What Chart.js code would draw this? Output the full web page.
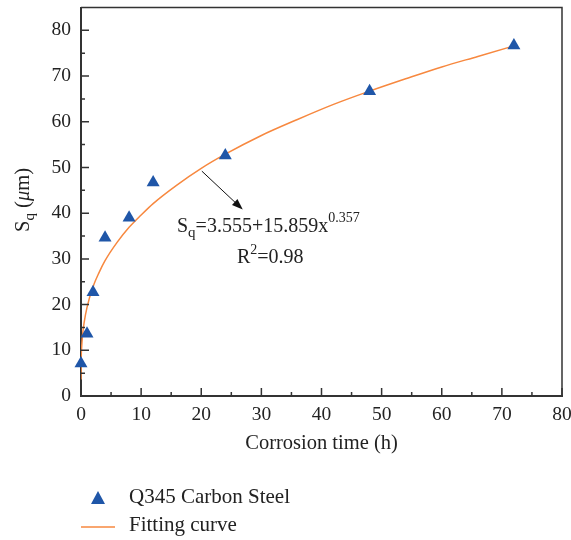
<!DOCTYPE html>
<html>
<head>
<meta charset="utf-8">
<script src="https://cdn.jsdelivr.net/npm/chart.js@4/dist/chart.umd.min.js"></script>
<style>
  html, body { margin: 0; padding: 0; background: #fff; }
  #wrap { width: 571px; height: 540px; position: relative; }
</style>
</head>
<body>
<div id="wrap"><canvas id="sqChart"></canvas></div>
<script>
// measured roughness Sq vs corrosion time
const timeHours = [0, 1, 2, 4, 8, 12, 24, 48, 72];
const sqValues  = [7.1, 13.6, 22.7, 34.6, 39.0, 46.7, 52.6, 66.7, 76.7];

// fitting curve
const fitX = [0, 0.05, 0.1, 0.25, 0.5, 1, 2, 3, 4, 6, 8, 10, 12, 16, 20, 24, 30, 36, 42, 48, 54, 60, 66, 72];
const fitY = [3.6, 9.0, 10.5, 13.2, 15.9, 19.4, 23.9, 27.0, 29.6, 33.6, 36.9, 39.6, 42.1, 46.2, 49.8, 52.9, 57.0, 60.5, 63.8, 66.7, 69.4, 72.0, 74.3, 76.6];

const xTicks = [0, 10, 20, 30, 40, 50, 60, 70, 80];
const yTicks = [0, 10, 20, 30, 40, 50, 60, 70, 80];

const seriesNames = ['Q345 Carbon Steel', 'Fitting curve'];

const BLUE = '#1f56a8';
const ORANGE = '#f7883f';
const INK = '#222';
const FONT = '"Liberation Serif", "DejaVu Serif", serif';

// draws text runs with sub/superscripts, returns width
function runs(ctx, parts, x, y, measureOnly) {
  let w = 0;
  parts.forEach(p => {
    ctx.font = (p.italic ? 'italic ' : '') + p.size + 'px ' + FONT;
    if (!measureOnly) ctx.fillText(p.t, x + w, y + (p.dy || 0));
    w += ctx.measureText(p.t).width;
  });
  return w;
}

// keep the plot area where the reference has it (no label overflow padding)
function noPad(s) {
  s.paddingTop = 0; s.paddingBottom = 0; s.paddingLeft = 0; s.paddingRight = 0;
}

const decorations = {
  id: 'decorations',
  afterDraw(chart) {
    const { ctx, chartArea: a, scales: { x, y } } = chart;
    ctx.save();

    // frame top/right
    ctx.strokeStyle = '#333';
    ctx.lineWidth = 1.5;
    ctx.beginPath();
    ctx.moveTo(a.left, a.top);
    ctx.lineTo(a.right, a.top);
    ctx.lineTo(a.right, a.bottom);
    ctx.stroke();
    // inner ticks on left/bottom
    ctx.beginPath();
    for (let v = 0; v <= 80; v += 5) {
      const len = v % 10 === 0 ? 8 : 4;
      const px = x.getPixelForValue(v);
      ctx.moveTo(px, a.bottom);
      ctx.lineTo(px, a.bottom - len);
      const py = y.getPixelForValue(v);
      ctx.moveTo(a.left, py);
      ctx.lineTo(a.left + len, py);
    }
    ctx.stroke();

    // arrow
    const x0 = x.getPixelForValue(20.1), y0 = y.getPixelForValue(49.2);
    const x1 = x.getPixelForValue(26.9), y1 = y.getPixelForValue(40.8);
    const ang = Math.atan2(y1 - y0, x1 - x0);
    ctx.strokeStyle = '#111';
    ctx.fillStyle = '#111';
    ctx.lineWidth = 1;
    ctx.beginPath();
    ctx.moveTo(x0, y0);
    ctx.lineTo(x1 - 6 * Math.cos(ang), y1 - 6 * Math.sin(ang));
    ctx.stroke();
    ctx.beginPath();
    ctx.moveTo(x1, y1);
    ctx.lineTo(x1 - 11 * Math.cos(ang) + 4 * Math.sin(ang), y1 - 11 * Math.sin(ang) - 4 * Math.cos(ang));
    ctx.lineTo(x1 - 11 * Math.cos(ang) - 4 * Math.sin(ang), y1 - 11 * Math.sin(ang) + 4 * Math.cos(ang));
    ctx.closePath();
    ctx.fill();

    // equation text
    ctx.fillStyle = INK;
    ctx.textBaseline = 'alphabetic';
    ctx.textAlign = 'left';
    runs(ctx, [
      { t: 'S', size: 20 },
      { t: 'q', size: 15, dy: 5 },
      { t: '=3.555+15.859x', size: 20 },
      { t: '0.357', size: 14, dy: -10 }
    ], 177, 232);
    runs(ctx, [
      { t: 'R', size: 20 },
      { t: '2', size: 14, dy: -9 },
      { t: '=0.98', size: 20 }
    ], 237, 263);

    // axis titles
    ctx.font = '20.5px ' + FONT;
    ctx.textAlign = 'center';
    ctx.textBaseline = 'middle';
    ctx.fillText('Corrosion time (h)', (a.left + a.right) / 2, 444);

    const yParts = [
      { t: 'S', size: 20.5 },
      { t: 'q', size: 15, dy: 5 },
      { t: ' (', size: 20.5 },
      { t: 'μ', size: 20.5, italic: true },
      { t: 'm)', size: 20.5 }
    ];
    ctx.textAlign = 'left';
    ctx.textBaseline = 'alphabetic';
    ctx.translate(29, 200);
    ctx.rotate(-Math.PI / 2);
    const w = runs(ctx, yParts, 0, 0, true);
    runs(ctx, yParts, -w / 2, 0);
    ctx.setTransform(1, 0, 0, 1, 0, 0);

    // legend
    ctx.fillStyle = BLUE;
    ctx.beginPath();
    ctx.moveTo(98, 491);
    ctx.lineTo(105, 504);
    ctx.lineTo(91, 504);
    ctx.closePath();
    ctx.fill();
    ctx.strokeStyle = ORANGE;
    ctx.lineWidth = 1.5;
    ctx.beginPath();
    ctx.moveTo(81, 527);
    ctx.lineTo(115, 527);
    ctx.stroke();
    ctx.fillStyle = INK;
    ctx.font = '21px ' + FONT;
    ctx.textBaseline = 'middle';
    ctx.fillText(seriesNames[0], 129, 497);
    ctx.fillText(seriesNames[1], 129, 525);

    ctx.restore();
  }
};

const ctx = document.getElementById('sqChart').getContext('2d');
new Chart(ctx, {
  type: 'scatter',
  data: {
    datasets: [
      {
        label: seriesNames[1],
        type: 'line',
        data: fitX.map((v, i) => ({ x: v, y: fitY[i] })),
        borderColor: ORANGE,
        borderWidth: 1.5,
        pointRadius: 0,
        cubicInterpolationMode: 'monotone',
        order: 2
      },
      {
        label: seriesNames[0],
        data: timeHours.map((v, i) => ({ x: v, y: sqValues[i] })),
        pointStyle: 'triangle',
        pointRadius: 7.5,
        backgroundColor: BLUE,
        borderColor: BLUE,
        borderWidth: 0,
        clip: false,
        order: 1
      }
    ]
  },
  options: {
    responsive: true,
    maintainAspectRatio: false,
    animation: false,
    layout: { padding: { left: 0, right: 9, top: 4, bottom: 0 } },
    scales: {
      x: {
        type: 'linear',
        min: 0, max: 80,
        afterFit: s => { s.height = 144; noPad(s); },
        afterBuildTicks: s => { s.ticks = xTicks.map(v => ({ value: v })); },
        grid: { display: false, drawTicks: false },
        border: { display: true, color: '#333', width: 2 },
        ticks: { padding: 7, color: INK, font: { family: FONT, size: 19.5 } }
      },
      y: {
        type: 'linear',
        min: 0, max: 85,
        afterFit: s => { s.width = 81; noPad(s); },
        afterBuildTicks: s => { s.ticks = yTicks.map(v => ({ value: v })); },
        grid: { display: false, drawTicks: false },
        border: { display: true, color: '#333', width: 2 },
        ticks: { padding: 10, color: INK, font: { family: FONT, size: 19.5 } }
      }
    },
    plugins: {
      legend: { display: false },
      tooltip: { enabled: false }
    }
  },
  plugins: [decorations]
});
</script>
</body>
</html>
